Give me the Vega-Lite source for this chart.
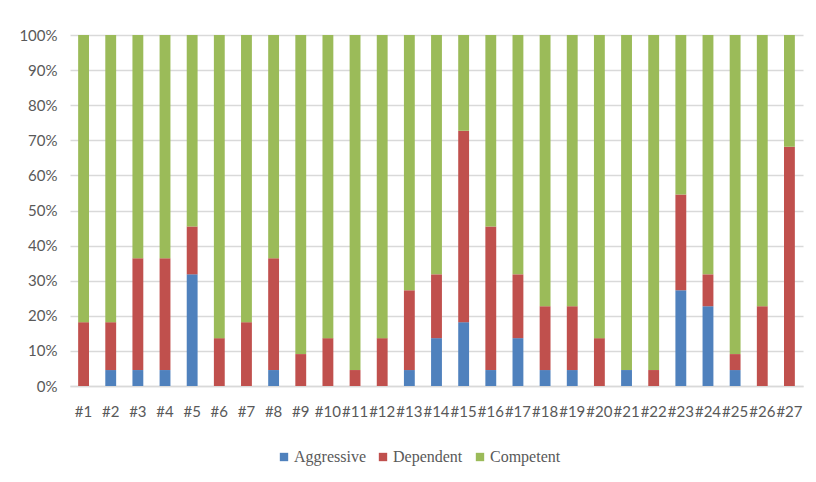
{
  "$schema": "https://vega.github.io/schema/vega-lite/v6.json",
  "description": "Share of Aggressive / Dependent / Competent responses per item",
  "width": 733,
  "height": 351,
  "padding": {"left": 10, "top": 28, "right": 13, "bottom": 10},
  "background": "white",
  "data": {
    "values": [
      {"id": "#1", "Aggressive": 0, "Dependent": 4, "Competent": 18},
      {"id": "#2", "Aggressive": 1, "Dependent": 3, "Competent": 18},
      {"id": "#3", "Aggressive": 1, "Dependent": 7, "Competent": 14},
      {"id": "#4", "Aggressive": 1, "Dependent": 7, "Competent": 14},
      {"id": "#5", "Aggressive": 7, "Dependent": 3, "Competent": 12},
      {"id": "#6", "Aggressive": 0, "Dependent": 3, "Competent": 19},
      {"id": "#7", "Aggressive": 0, "Dependent": 4, "Competent": 18},
      {"id": "#8", "Aggressive": 1, "Dependent": 7, "Competent": 14},
      {"id": "#9", "Aggressive": 0, "Dependent": 2, "Competent": 20},
      {"id": "#10", "Aggressive": 0, "Dependent": 3, "Competent": 19},
      {"id": "#11", "Aggressive": 0, "Dependent": 1, "Competent": 21},
      {"id": "#12", "Aggressive": 0, "Dependent": 3, "Competent": 19},
      {"id": "#13", "Aggressive": 1, "Dependent": 5, "Competent": 16},
      {"id": "#14", "Aggressive": 3, "Dependent": 4, "Competent": 15},
      {"id": "#15", "Aggressive": 4, "Dependent": 12, "Competent": 6},
      {"id": "#16", "Aggressive": 1, "Dependent": 9, "Competent": 12},
      {"id": "#17", "Aggressive": 3, "Dependent": 4, "Competent": 15},
      {"id": "#18", "Aggressive": 1, "Dependent": 4, "Competent": 17},
      {"id": "#19", "Aggressive": 1, "Dependent": 4, "Competent": 17},
      {"id": "#20", "Aggressive": 0, "Dependent": 3, "Competent": 19},
      {"id": "#21", "Aggressive": 1, "Dependent": 0, "Competent": 21},
      {"id": "#22", "Aggressive": 0, "Dependent": 1, "Competent": 21},
      {"id": "#23", "Aggressive": 6, "Dependent": 6, "Competent": 10},
      {"id": "#24", "Aggressive": 5, "Dependent": 2, "Competent": 15},
      {"id": "#25", "Aggressive": 1, "Dependent": 1, "Competent": 20},
      {"id": "#26", "Aggressive": 0, "Dependent": 5, "Competent": 17},
      {"id": "#27", "Aggressive": 0, "Dependent": 15, "Competent": 7}
    ]
  },
  "transform": [
    {"fold": ["Aggressive", "Dependent", "Competent"], "as": ["type", "count"]},
    {
      "lookup": "type",
      "from": {
        "data": {
          "values": [
            {"type": "Aggressive", "rank": 0},
            {"type": "Dependent", "rank": 1},
            {"type": "Competent", "rank": 2}
          ]
        },
        "key": "type",
        "fields": ["rank"]
      }
    }
  ],
  "mark": {"type": "bar"},
  "encoding": {
    "x": {
      "field": "id",
      "type": "nominal",
      "sort": null,
      "title": null,
      "scale": {"paddingInner": 0.6, "paddingOuter": 0.3},
      "axis": {
        "labelAngle": 0,
        "ticks": false,
        "domainColor": "#D9D9D9",
        "domainWidth": 1.5,
        "labelPadding": 18,
        "labelFont": "Lato",
        "labelFontSize": 15,
        "labelColor": "#595959",
        "minExtent": 30,
        "maxExtent": 30
      }
    },
    "y": {
      "field": "count",
      "type": "quantitative",
      "stack": "normalize",
      "title": null,
      "scale": {"domain": [0, 1], "nice": false},
      "axis": {
        "format": "%",
        "values": [0, 0.1, 0.2, 0.3, 0.4, 0.5, 0.6, 0.7, 0.8, 0.9, 1],
        "domain": false,
        "ticks": false,
        "gridColor": "#D9D9D9",
        "gridWidth": 1.5,
        "labelPadding": 13,
        "labelFont": "Lato",
        "labelFontSize": 15,
        "labelColor": "#595959",
        "minExtent": 60,
        "maxExtent": 60
      }
    },
    "order": {"field": "rank", "type": "quantitative", "sort": "ascending"},
    "color": {
      "field": "type",
      "type": "nominal",
      "sort": ["Aggressive", "Dependent", "Competent"],
      "scale": {
        "domain": ["Aggressive", "Dependent", "Competent"],
        "range": ["#4F81BD", "#C0504D", "#9BBB59"]
      },
      "legend": {
        "title": null,
        "orient": "none",
        "direction": "horizontal",
        "legendX": 206,
        "legendY": 414,
        "symbolType": "square",
        "symbolSize": 70,
        "symbolStrokeWidth": 0,
        "labelFont": "serif",
        "labelFontSize": 16,
        "labelColor": "#595959",
        "labelOffset": 2,
        "columnPadding": 9
      }
    }
  },
  "config": {
    "view": {"stroke": null}
  }
}
